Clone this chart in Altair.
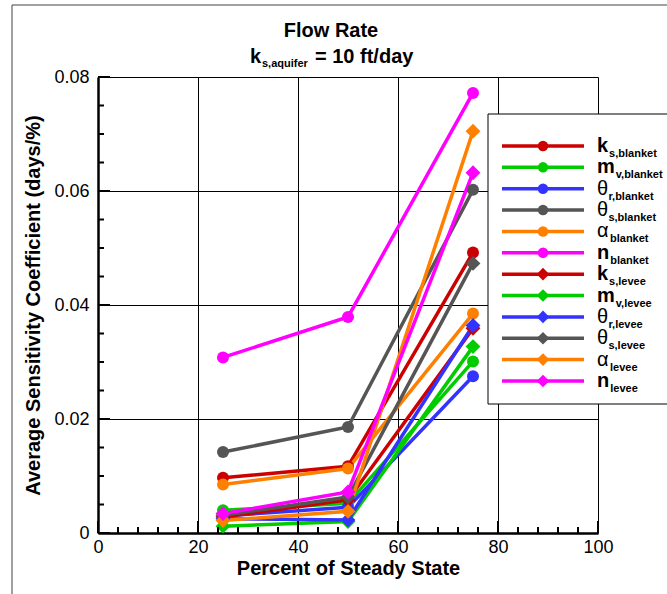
import altair as alt
import pandas as pd

# ---- data -------------------------------------------------------------
percent = [25, 50, 75]

series = [
    "ks_blanket", "mv_blanket", "thr_blanket", "ths_blanket", "alpha_blanket", "n_blanket",
    "ks_levee", "mv_levee", "thr_levee", "ths_levee", "alpha_levee", "n_levee",
]
symbols = ["k", "m", "θ", "θ", "α", "n", "k", "m", "θ", "θ", "α", "n"]
subscripts = [
    "s,blanket", "v,blanket", "r,blanket", "s,blanket", "blanket", "blanket",
    "s,levee", "v,levee", "r,levee", "s,levee", "levee", "levee",
]
colors = ["#cc0000", "#00cc00", "#3333ff", "#555555", "#ff8000", "#ff00ff"] * 2
shapes = ["circle"] * 6 + ["diamond"] * 6

ks_blanket = [0.0097, 0.0117, 0.0492]
mv_blanket = [0.0040, 0.0052, 0.0301]
thr_blanket = [0.0030, 0.0045, 0.0275]
ths_blanket = [0.0142, 0.0186, 0.0602]
alpha_blanket = [0.0085, 0.0113, 0.0385]
n_blanket = [0.0308, 0.0379, 0.0772]
ks_levee = [0.0028, 0.0058, 0.0359]
mv_levee = [0.0012, 0.0020, 0.0327]
thr_levee = [0.0025, 0.0023, 0.0364]
ths_levee = [0.0031, 0.0063, 0.0473]
alpha_levee = [0.0022, 0.0038, 0.0705]
n_levee = [0.0034, 0.0072, 0.0632]

values = [
    ks_blanket, mv_blanket, thr_blanket, ths_blanket, alpha_blanket, n_blanket,
    ks_levee, mv_levee, thr_levee, ths_levee, alpha_levee, n_levee,
]

x_major = [0, 20, 40, 60, 80, 100]
x_minor = [v for v in range(0, 101, 4) if v % 20 != 0]
y_major = [0, 0.02, 0.04, 0.06, 0.08]
y_minor = [round(i * 0.005, 3) for i in range(17) if i % 4 != 0]

# ---- layout -----------------------------------------------------------
W, H = 500, 456
FONT = "Liberation Sans"
BLACK = "#000000"

rows = []
for i, s in enumerate(series):
    for p, v in zip(percent, values[i]):
        rows.append({"series": s, "percent": p, "coef": v, "shape": shapes[i],
                     "msize": 144 if shapes[i] == "circle" else 220})
df = pd.DataFrame(rows)

cscale = alt.Scale(domain=series, range=colors)
xscale = alt.Scale(domain=[0, 100], nice=False, zero=False)
yscale = alt.Scale(domain=[0, 0.08], nice=False)

xaxis = alt.Axis(values=x_major, grid=True, gridColor=BLACK, gridWidth=1,
                 ticks=False, domainColor=BLACK, domainWidth=2.5,
                 labelFont=FONT, labelFontSize=18, labelColor=BLACK, labelPadding=5,
                 labelFlush=False,
                 title="Percent of Steady State", titleFont=FONT, titleFontSize=20,
                 titleFontWeight="bold", titleColor=BLACK, titlePadding=2)
yaxis = alt.Axis(values=y_major, grid=True, gridColor=BLACK, gridWidth=1,
                 ticks=False, domainColor=BLACK, domainWidth=2.5,
                 labelFont=FONT, labelFontSize=18, labelColor=BLACK, labelPadding=9,
                 labelFlush=False,
                 labelExpr="datum.value == 0 ? '0' : format(datum.value, '.2f')",
                 title="Average Sensitivity Coefficient (days/%)", titleFont=FONT,
                 titleFontSize=20, titleFontWeight="bold", titleColor=BLACK,
                 titlePadding=10)

base = alt.Chart(df)
lines = base.mark_line(strokeWidth=3.5).encode(
    x=alt.X("percent:Q", scale=xscale, axis=xaxis),
    y=alt.Y("coef:Q", scale=yscale, axis=yaxis),
    color=alt.Color("series:N", scale=cscale, legend=None),
    order=alt.Order("percent:Q"),
)
points = base.mark_point(filled=True, opacity=1).encode(
    x=alt.X("percent:Q", scale=xscale),
    y=alt.Y("coef:Q", scale=yscale),
    color=alt.Color("series:N", scale=cscale, legend=None),
    shape=alt.Shape("shape:N", scale=None),
    size=alt.Size("msize:Q", scale=None),
)

# inward tick marks on the bottom and left axes
def x_ticks(vals, length):
    return alt.Chart(pd.DataFrame({"v": vals})).mark_rule(color=BLACK, strokeWidth=2).encode(
        x=alt.X("v:Q", scale=xscale), y=alt.value(H), y2=alt.value(H - length))


def y_ticks(vals, length):
    return alt.Chart(pd.DataFrame({"v": vals})).mark_rule(color=BLACK, strokeWidth=2).encode(
        y=alt.Y("v:Q", scale=yscale), x=alt.value(0), x2=alt.value(length))


ticks = [x_ticks(x_major, 12), x_ticks(x_minor, 6), y_ticks(y_major, 12), y_ticks(y_minor, 6)]

# ---- legend (drawn inside the plot, one entry per series) -------------
one = pd.DataFrame({"a": [0]})
tc = alt.Chart(one)
glyph_em = {"k": 0.556, "m": 0.889, "n": 0.611, "θ": 0.52, "α": 0.60}

legend_layers = [
    tc.mark_rect(fill="#ffffff", stroke=BLACK, strokeWidth=1).encode(
        x=alt.value(390), x2=alt.value(620), y=alt.value(37), y2=alt.value(327))
]
for i, s in enumerate(series):
    ly = 69 + 21.36 * i
    col = colors[i]
    greek = symbols[i] in ("θ", "α")
    legend_layers += [
        tc.mark_rule(color=col, strokeWidth=3.5).encode(
            x=alt.value(404), x2=alt.value(486), y=alt.value(ly)),
        tc.mark_point(filled=True, opacity=1, color=col, shape=shapes[i],
                      size=110 if shapes[i] == "circle" else 160).encode(
            x=alt.value(445), y=alt.value(ly)),
        tc.mark_text(align="left", baseline="alphabetic", font=FONT, fontSize=20,
                     fontWeight="normal" if greek else "bold", color=BLACK,
                     text=symbols[i]).encode(x=alt.value(499), y=alt.value(ly + 6)),
        tc.mark_text(align="left", baseline="alphabetic", font=FONT, fontSize=11,
                     fontWeight="bold", color=BLACK, text=subscripts[i]).encode(
            x=alt.value(499 + glyph_em[symbols[i]] * 20 + 1), y=alt.value(ly + 11)),
    ]

# ---- title ------------------------------------------------------------
title_layers = [
    tc.mark_text(align="center", baseline="alphabetic", font=FONT, fontSize=20,
                 fontWeight="bold", color=BLACK, text="Flow Rate").encode(
        x=alt.value(233), y=alt.value(-40)),
    tc.mark_text(align="left", baseline="alphabetic", font=FONT, fontSize=20,
                 fontWeight="bold", color=BLACK, text="k").encode(
        x=alt.value(152), y=alt.value(-14)),
    tc.mark_text(align="left", baseline="alphabetic", font=FONT, fontSize=11,
                 fontWeight="bold", color=BLACK, text="s,aquifer").encode(
        x=alt.value(164), y=alt.value(-10)),
    tc.mark_text(align="left", baseline="alphabetic", font=FONT, fontSize=20,
                 fontWeight="bold", color=BLACK, text="= 10 ft/day").encode(
        x=alt.value(217), y=alt.value(-14)),
]

# outer frame
frame = [
    tc.mark_rule(color="#808080", strokeWidth=1.5).encode(
        x=alt.value(-86), x2=alt.value(700), y=alt.value(-72)),
    tc.mark_rule(color="#404040", strokeWidth=1).encode(
        x=alt.value(-86), y=alt.value(-72), y2=alt.value(600)),
]

chart = alt.layer(
    *frame, lines, points, *ticks, *legend_layers, *title_layers,
).properties(
    width=W, height=H,
    autosize=alt.AutoSizeParams(type="none"),
    padding={"left": 98, "top": 77, "right": 69, "bottom": 61},
).configure_view(stroke=None).configure(background="#ffffff")

chart.save("out.html", embed_options={"renderer": "svg", "actions": False})
